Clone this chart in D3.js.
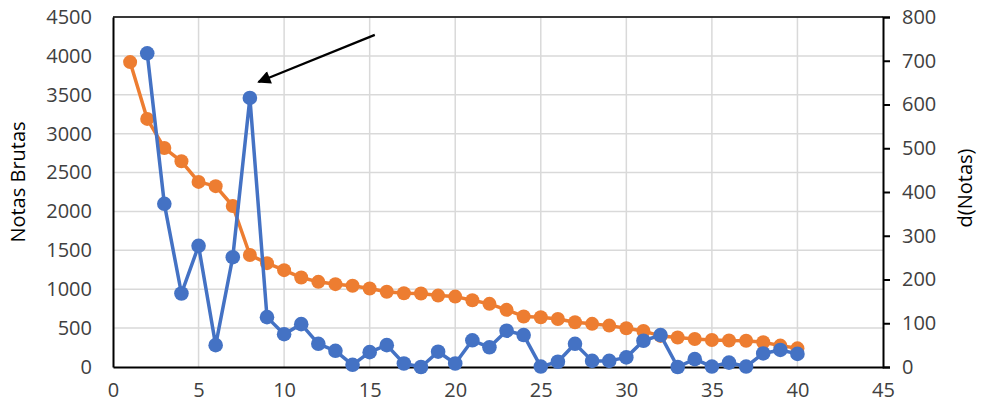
<!DOCTYPE html>
<html>
<head>
<meta charset="utf-8">
<script src="https://cdn.jsdelivr.net/npm/d3@7"></script>
<style>
  body { margin: 0; background: #fff; }
  svg text { font-family: "Open Sans", sans-serif; fill: #404040; }
</style>
</head>
<body>
<svg id="chart" width="983" height="419"></svg>
<script>
// orange series, left axis
var notasX = d3.range(1, 41);
var notasBrutas = [3920, 3190, 2815, 2645, 2380, 2325, 2070, 1440, 1335, 1245,
                   1150, 1095, 1065, 1045, 1010, 968, 948, 945, 918, 905,
                   858, 812, 735, 650, 640, 618, 575, 555, 532, 498,
                   462, 400, 380, 360, 348, 340, 338, 318, 275, 240];
// blue series, right axis
var dX = d3.range(2, 41);
var dNotas = [717, 373, 168, 277, 50, 251, 615, 114, 75, 98,
              53, 37, 5, 34, 50, 8, 0, 35, 8, 61,
              45, 83, 73, 1, 12, 53, 14, 14, 22, 60,
              73, 0, 18, 1, 10, 1, 31, 39, 30];
var xTicks = d3.range(0, 46, 5);
var leftTicks = d3.range(0, 4501, 500);
var rightTicks = d3.range(0, 801, 100);
// annotation arrow, in data units (x, left axis)
var flecha = { x1: 15.3, y1: 4270, x2: 8.5, y2: 3665 };

var svg = d3.select("#chart");
var margen = { left: 113, right: 100, top: 17, bottom: 52 };
var ancho = 983 - margen.left - margen.right;
var alto = 419 - margen.top - margen.bottom;

var x = d3.scaleLinear().domain([0, 45]).range([margen.left, margen.left + ancho]);
var yL = d3.scaleLinear().domain([0, 4500]).range([margen.top + alto, margen.top]);
var yR = d3.scaleLinear().domain([0, 800]).range([margen.top + alto, margen.top]);

// grid
svg.append("g").selectAll("line")
    .data(leftTicks.slice(1))
    .enter().append("line")
    .attr("x1", x(0)).attr("x2", x(45))
    .attr("y1", function (d) { return yL(d); })
    .attr("y2", function (d) { return yL(d); })
    .attr("stroke", "#d9d9d9").attr("stroke-width", 1.5);
svg.append("g").selectAll("line")
    .data(xTicks.slice(1, -1))
    .enter().append("line")
    .attr("y1", yL(0)).attr("y2", yL(4500))
    .attr("x1", function (d) { return x(d); })
    .attr("x2", function (d) { return x(d); })
    .attr("stroke", "#d9d9d9").attr("stroke-width", 1.5);

// top border
svg.append("line")
    .attr("x1", x(0)).attr("x2", x(45))
    .attr("y1", yL(4500)).attr("y2", yL(4500))
    .attr("stroke", "#000").attr("stroke-width", 1.5);

// axes
var ejeX = svg.append("g")
    .attr("transform", "translate(0," + yL(0) + ")")
    .call(d3.axisBottom(x).tickValues(xTicks).tickSize(0).tickPadding(16));
var ejeL = svg.append("g")
    .attr("transform", "translate(" + x(0) + ",0)")
    .call(d3.axisLeft(yL).tickValues(leftTicks).tickFormat(d3.format("d")).tickSize(0).tickPadding(21));
var ejeR = svg.append("g")
    .attr("transform", "translate(" + x(45) + ",0)")
    .call(d3.axisRight(yR).tickValues(rightTicks).tickSize(7).tickSizeOuter(7).tickPadding(12));

[ejeX, ejeL, ejeR].forEach(function (eje) {
    eje.select(".domain").attr("stroke", "#000").attr("stroke-width", 2);
    eje.selectAll(".tick line").attr("stroke", "#000").attr("stroke-width", 2);
    eje.selectAll("text").style("font-size", "20px").attr("fill", "#404040");
});

// series
function dibujarSerie(xs, ys, escala, color, radio) {
    var datos = xs.map(function (d, i) { return [d, ys[i]]; });
    var linea = d3.line()
        .x(function (d) { return x(d[0]); })
        .y(function (d) { return escala(d[1]); });
    var g = svg.append("g");
    g.append("path")
        .datum(datos)
        .attr("d", linea)
        .attr("fill", "none")
        .attr("stroke", color)
        .attr("stroke-width", 3.5)
        .attr("stroke-linejoin", "round");
    g.selectAll("circle")
        .data(datos)
        .enter().append("circle")
        .attr("cx", function (d) { return x(d[0]); })
        .attr("cy", function (d) { return escala(d[1]); })
        .attr("r", radio)
        .attr("fill", color);
}
dibujarSerie(notasX, notasBrutas, yL, "#ED7D31", 7);
dibujarSerie(dX, dNotas, yR, "#4472C4", 7.3);

// arrow
svg.append("defs").append("marker")
    .attr("id", "punta")
    .attr("viewBox", "0 0 10 10")
    .attr("refX", 9).attr("refY", 5)
    .attr("markerWidth", 7).attr("markerHeight", 6)
    .attr("markerUnits", "strokeWidth")
    .attr("orient", "auto")
    .append("path")
    .attr("d", "M0,0 L10,5 L0,10 z")
    .attr("fill", "#000");
svg.append("line")
    .attr("x1", x(flecha.x1)).attr("y1", yL(flecha.y1))
    .attr("x2", x(flecha.x2)).attr("y2", yL(flecha.y2))
    .attr("stroke", "#000").attr("stroke-width", 2.2)
    .attr("marker-end", "url(#punta)");

// axis titles
svg.append("text")
    .attr("transform", "translate(25," + (margen.top + alto / 2 - 10) + ") rotate(-90)")
    .attr("text-anchor", "middle")
    .style("font-size", "20px")
    .style("fill", "#000")
    .text("Notas Brutas");
svg.append("text")
    .attr("transform", "translate(972," + (margen.top + alto / 2 - 4) + ") rotate(-90)")
    .attr("text-anchor", "middle")
    .style("font-size", "20px")
    .style("fill", "#000")
    .text("d(Notas)");
</script>
</body>
</html>
